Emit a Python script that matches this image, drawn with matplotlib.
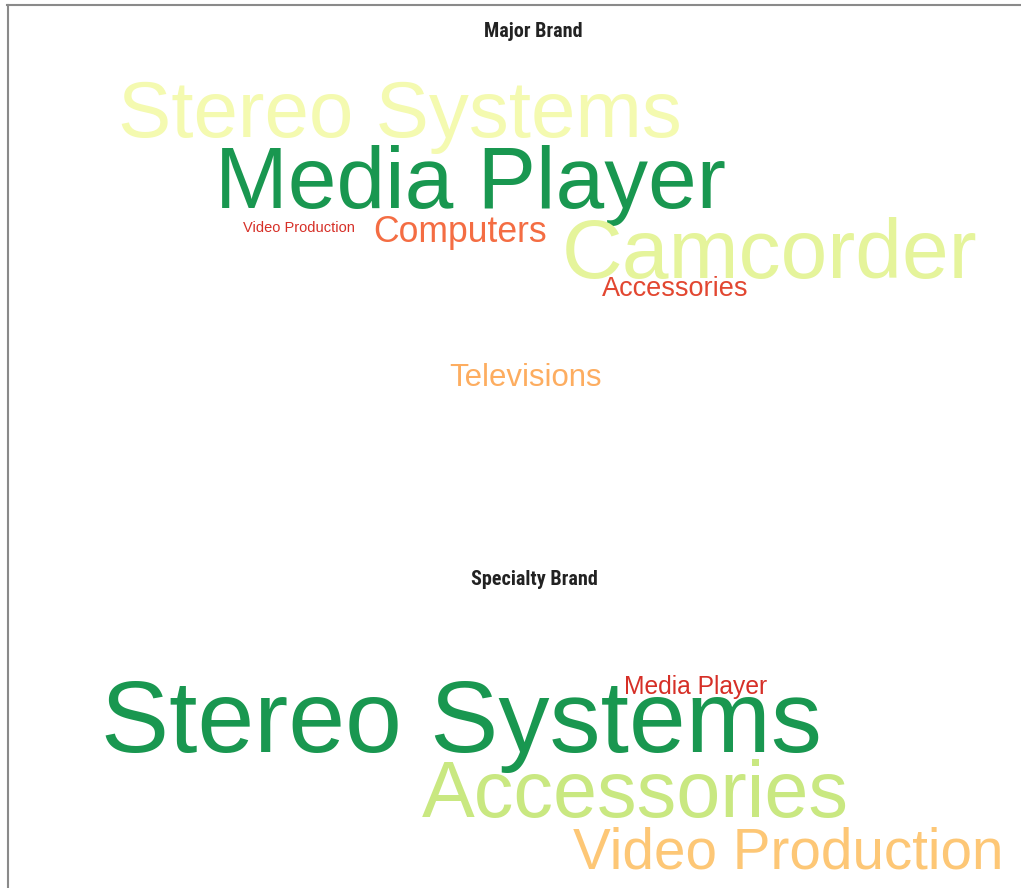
import matplotlib.pyplot as plt

# datos de las dos nubes de palabras
major_words = ['Stereo Systems', 'Media Player', 'Camcorder', 'Computers',
               'Video Production', 'Accessories', 'Televisions']
major_weight = [57.5, 63, 60.5, 25.6, 10.5, 19.5, 22.4]
major_score = [0.53, 0.9, 0.57, 0.2, 0.1, 0.14, 0.3]

specialty_words = ['Stereo Systems', 'Media Player', 'Accessories', 'Video Production']
specialty_weight = [73.5, 17.7, 57, 40.8]
specialty_score = [0.9, 0.1, 0.63, 0.35]

# layout (pixeles: x izquierda, linea base)
major_pos = [(118, 137), (215, 208), (562, 278), (373, 242), (243, 232), (602, 296), (449, 386)]
specialty_pos = [(101, 752), (624, 694), (422, 817), (573, 868)]

W, H = 1021, 888
fig = plt.figure(figsize=(W / 100, H / 100), dpi=100)
cmap = plt.get_cmap('RdYlGn')

def nube(words, weight, score, pos):
    for w, s, c, (x, y) in zip(words, weight, score, pos):
        fig.text(x / W, 1 - y / H, w, fontsize=s, color=cmap(c),
                 family='Liberation Sans', ha='left', va='baseline')

nube(major_words, major_weight, major_score, major_pos)
nube(specialty_words, specialty_weight, specialty_score, specialty_pos)

# titulos
titulo_font = ['Liberation Sans Narrow', 'Arial Narrow', 'Roboto Condensed',
               'PT Sans Narrow', 'Archivo Narrow', 'DejaVu Sans']
fig.text(533.5 / W, 1 - 37 / H, 'Major Brand', fontsize=14.5, fontweight='bold',
         family=titulo_font, ha='center', va='baseline', color='#222222')
fig.text(534.5 / W, 1 - 585 / H, 'Specialty Brand', fontsize=14.5, fontweight='bold',
         family=titulo_font, ha='center', va='baseline', color='#222222')

# marco gris arriba e izquierda
fig.add_artist(plt.Line2D([7 / W, 1], [1 - 5.5 / H, 1 - 5.5 / H], color='#8a8a8a', lw=1.5))
fig.add_artist(plt.Line2D([7.5 / W, 7.5 / W], [0, 1 - 5 / H], color='#8a8a8a', lw=1.5))

fig.savefig('out.png', dpi=100)
